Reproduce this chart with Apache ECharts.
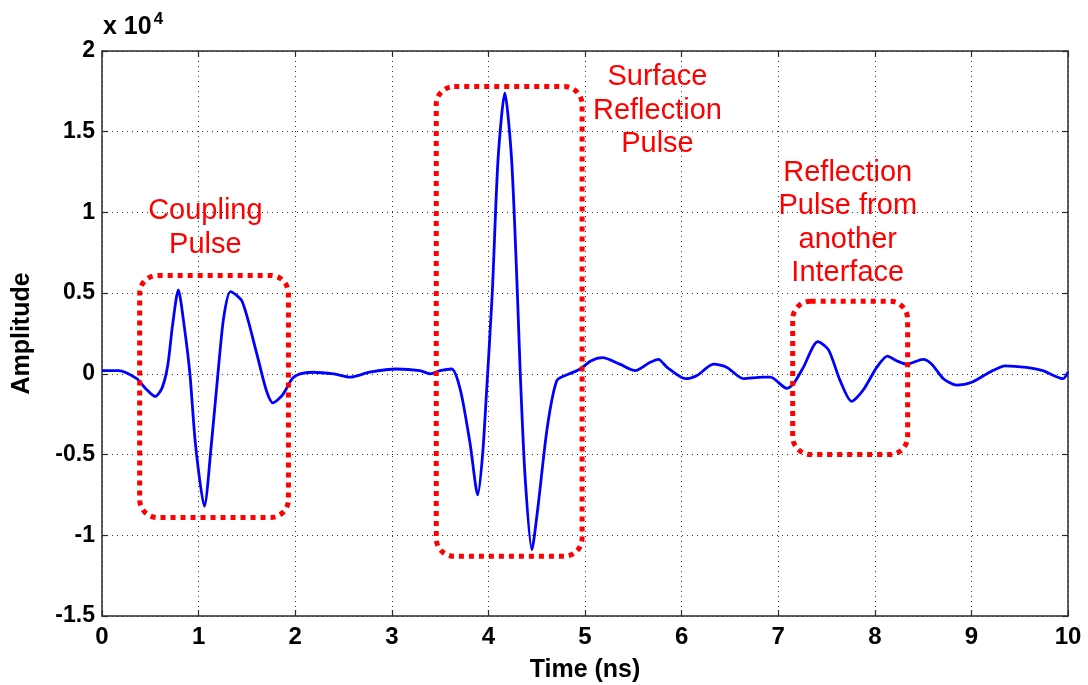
<!DOCTYPE html>
<html>
<head>
<meta charset="utf-8">
<script src="https://cdn.jsdelivr.net/npm/echarts@6/dist/echarts.min.js"></script>
<style>
html,body{margin:0;padding:0;background:#fff;}
#chart{width:1088px;height:685px;}
</style>
</head>
<body>
<div id="chart"></div>
<script>
// Time (ns)
var timeNs = [0,0.17,0.36,0.45,0.55,0.62,0.68,0.73,0.79,0.85,0.91,0.97,1.06,1.13,1.20,1.26,1.33,1.45,1.60,1.70,1.77,1.87,1.97,2.05,2.18,2.40,2.57,2.77,3.05,3.29,3.40,3.50,3.62,3.71,3.81,3.89,3.94,3.98,4.04,4.10,4.17,4.24,4.30,4.33,4.38,4.45,4.51,4.61,4.71,4.84,4.95,5.06,5.18,5.36,5.52,5.67,5.76,5.85,6.04,6.16,6.33,6.47,6.64,6.84,6.92,7.09,7.16,7.26,7.41,7.52,7.64,7.76,7.88,8.02,8.13,8.23,8.33,8.50,8.59,8.71,8.85,9.01,9.19,9.35,9.57,9.74,9.85,9.95,10.0];
// Amplitude (x 10^4)
var amplitude = [0.02,0.02,-0.03,-0.09,-0.14,-0.09,0.05,0.30,0.52,0.30,0.0,-0.45,-0.82,-0.45,0.0,0.35,0.51,0.45,0.13,-0.10,-0.18,-0.13,-0.03,0.0,0.01,0.0,-0.02,0.01,0.03,0.02,0.0,0.02,0.03,-0.10,-0.43,-0.75,-0.50,-0.12,0.50,1.33,1.74,1.33,0.50,0.0,-0.64,-1.09,-0.84,-0.33,-0.04,0.0,0.03,0.08,0.10,0.06,0.02,0.07,0.09,0.04,-0.03,-0.01,0.06,0.04,-0.03,-0.02,-0.02,-0.09,-0.06,0.04,0.20,0.15,-0.04,-0.17,-0.10,0.04,0.11,0.08,0.06,0.09,0.06,-0.03,-0.07,-0.05,0.01,0.05,0.04,0.02,-0.01,-0.03,0.01];
var xTicks = [0,1,2,3,4,5,6,7,8,9,10];
var yTicks = [-1.5,-1,-0.5,0,0.5,1,1.5,2];

// Annotation boxes in data coords: [t0, t1, yTop, yBottom]
var boxCoupling = [0.39, 1.93, 0.61, -0.89];
var boxSurface = [3.46, 4.97, 1.78, -1.13];
var boxInterface = [7.15, 8.34, 0.45, -0.50];
// Annotation labels and their anchor (t, y) = top-center of the text block
var labelCoupling = ['Coupling', 'Pulse'];
var labelSurface = ['Surface', 'Reflection', 'Pulse'];
var labelInterface = ['Reflection', 'Pulse from', 'another', 'Interface'];
var labelCouplingPos = [1.07, 1.11];
var labelSurfacePos = [5.75, 1.94];
var labelInterfacePos = [7.72, 1.35];

var chart = echarts.init(document.getElementById('chart'), null, {renderer:'canvas'});
var data = timeNs.map(function(t,i){return [t, amplitude[i]];});
var font = 'Liberation Sans, Arial, sans-serif';
var axisLineStyle = {color:'#2b2b2b', width:1.5};
var splitStyle = {color:'#333', width:1, type:[1,4]};
var tickStyle = {show:true, inside:true, length:6, lineStyle:{color:'#2b2b2b', width:1.2}};

var option = {
  animation:false,
  backgroundColor:'#fff',
  grid:{left:102, right:20, top:51, bottom:69, containLabel:false, outerBoundsMode:'none'},
  xAxis:[{
    type:'value', min:0, max:10, interval:1, position:'bottom',
    axisLine:{show:true, lineStyle:axisLineStyle, onZero:false},
    axisTick:tickStyle,
    axisLabel:{color:'#000', fontFamily:font, fontWeight:'bold', fontSize:24, margin:9},
    splitLine:{show:true, lineStyle:splitStyle},
    name:'Time (ns)', nameLocation:'middle', nameGap:42,
    nameTextStyle:{color:'#000', fontFamily:font, fontWeight:'bold', fontSize:25}
  },{
    type:'value', min:0, max:10, interval:1, position:'top',
    axisLine:{show:true, lineStyle:axisLineStyle, onZero:false},
    axisTick:tickStyle,
    axisLabel:{show:false}, splitLine:{show:false}
  }],
  yAxis:[{
    type:'value', min:-1.5, max:2, interval:0.5, position:'left',
    axisLine:{show:true, lineStyle:axisLineStyle, onZero:false},
    axisTick:tickStyle,
    axisLabel:{color:'#000', fontFamily:font, fontWeight:'bold', fontSize:23, margin:7,
      formatter:function(v){return String(v);}},
    splitLine:{show:true, lineStyle:splitStyle},
    name:'Amplitude', nameLocation:'middle', nameGap:67, nameRotate:90,
    nameTextStyle:{color:'#000', fontFamily:font, fontWeight:'bold', fontSize:25}
  },{
    type:'value', min:-1.5, max:2, interval:0.5, position:'right',
    axisLine:{show:true, lineStyle:axisLineStyle, onZero:false},
    axisTick:tickStyle,
    axisLabel:{show:false}, splitLine:{show:false}
  }],
  series:[{
    type:'line', data:data, showSymbol:false, smooth:0.25,
    lineStyle:{color:'#0000ff', width:2.8}, xAxisIndex:0, yAxisIndex:0
  }]
};
chart.setOption(option);

function boxGraphic(b){
  var p0 = chart.convertToPixel({gridIndex:0}, [b[0], b[2]]);
  var p1 = chart.convertToPixel({gridIndex:0}, [b[1], b[3]]);
  return {
    type:'rect', z:100,
    shape:{x:p0[0], y:p0[1], width:p1[0]-p0[0], height:p1[1]-p0[1], r:18},
    style:{fill:'none', stroke:'#ff0000', lineWidth:5, lineDash:[5,5]}
  };
}
function labelGraphic(lines, pos){
  var p = chart.convertToPixel({gridIndex:0}, pos);
  return {
    type:'text', z:100, x:p[0], y:p[1],
    style:{text:lines.join('\n'), fill:'#ff0000', font:'29px ' + font,
      align:'center', verticalAlign:'top', lineHeight:33.5}
  };
}
var gAxis = chart.convertToPixel({gridIndex:0}, [0, 2]);
chart.setOption({
  graphic:[
    boxGraphic(boxCoupling), boxGraphic(boxSurface), boxGraphic(boxInterface),
    labelGraphic(labelCoupling, labelCouplingPos),
    labelGraphic(labelSurface, labelSurfacePos),
    labelGraphic(labelInterface, labelInterfacePos),
    {type:'text', z:100, x:gAxis[0]+1, y:gAxis[1]-40,
     style:{text:'{a|x 10}{b|4}', rich:{
       a:{fontFamily:font, fontWeight:'bold', fontSize:25, fill:'#000', verticalAlign:'bottom'},
       b:{fontFamily:font, fontWeight:'bold', fontSize:17, fill:'#000', verticalAlign:'top', padding:[0,0,12,2]}
     }}}
  ]
});
</script>
</body>
</html>
